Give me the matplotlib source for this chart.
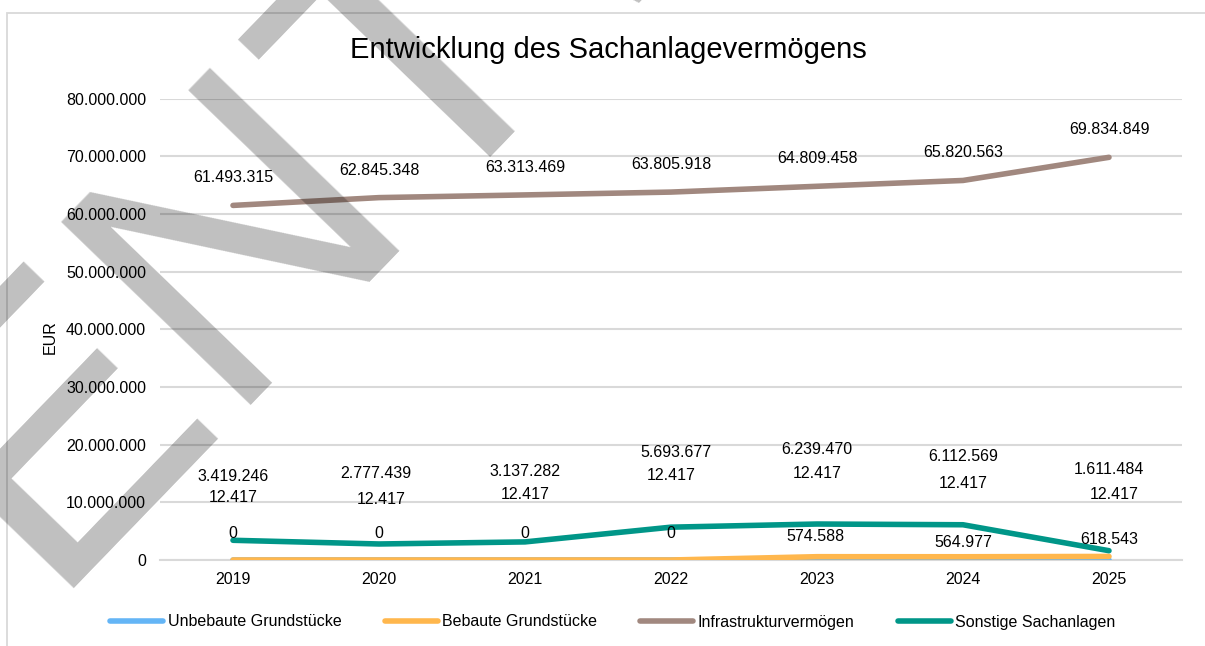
import matplotlib
matplotlib.use("Agg")
import matplotlib.pyplot as plt
from matplotlib.ticker import FuncFormatter, MultipleLocator
from matplotlib.patches import Rectangle

plt.rcParams['font.family'] = ['Liberation Sans', 'DejaVu Sans']
plt.rcParams['font.size'] = 11.5

# Data
years = ['2019', '2020', '2021', '2022', '2023', '2024', '2025']
unbebaut = [12417, 12417, 12417, 12417, 12417, 12417, 12417]
bebaut = [0, 0, 0, 0, 574588, 564977, 618543]
infrastruktur = [61493315, 62845348, 63313469, 63805918, 64809458, 65820563, 69834849]
sonstige = [3419246, 2777439, 3137282, 5693677, 6239470, 6112569, 1611484]

series_names = ['Unbebaute Grundstücke', 'Bebaute Grundstücke',
                'Infrastrukturvermögen', 'Sonstige Sachanlagen']
colors = ['#64B5F6', '#FFB74D', '#A1887F', '#009688']

# label offsets in pixels (dx, dy), as placed in the original chart
unbebaut_off = [(0, 62), (2, 60), (0, 65), (0, 84), (0, 86), (0, 76), (5, 65)]
bebaut_off = [(0, 27), (0, 27), (0, 27), (0, 27), (-2, 20), (0, 14), (0, 17)]
infra_off = [(0, 27.5)] * 7
sonstige_off = [(0, 64), (-3, 70), (0, 70), (5, 75), (0, 75), (0, 68), (0, 81)]


def de_fmt(v, pos=None):
    return f"{int(round(v)):,}".replace(",", ".")


W, H = 1205, 646
fig = plt.figure(figsize=(W / 100, H / 100), dpi=100)
ax = fig.add_axes([160 / W, 1 - 560 / H, (1182 - 160) / W, (560 - 98.7) / H])

x = list(range(len(years)))
all_series = [unbebaut, bebaut, infrastruktur, sonstige]
all_offsets = [unbebaut_off, bebaut_off, infra_off, sonstige_off]

for vals, name, col in zip(all_series, series_names, colors):
    ax.plot(x, vals, color=col, linewidth=4, solid_capstyle='round',
            solid_joinstyle='round', label=name, zorder=3)

for vals, offs in zip(all_series, all_offsets):
    for xi, v, (dx, dy) in zip(x, vals, offs):
        ax.annotate(de_fmt(v), xy=(xi, v), xytext=(dx, dy),
                    textcoords='offset pixels', ha='center', va='center',
                    fontsize=11.5, color='#000000', zorder=4)

ax.set_xlim(-0.5, 6.5)
ax.set_ylim(0, 80000000)
ax.yaxis.set_major_locator(MultipleLocator(10000000))
ax.yaxis.set_major_formatter(FuncFormatter(de_fmt))
ax.set_xticks(x)
ax.set_xticklabels(years)
ax.tick_params(axis='both', length=0, labelsize=11.5, colors='#000000')
ax.tick_params(axis='y', pad=10)
ax.tick_params(axis='x', pad=9)
ax.grid(True, axis='y', color='#D9D9D9', linewidth=1.5, zorder=0)
ax.set_axisbelow(True)
for s in ['top', 'right', 'left']:
    ax.spines[s].set_visible(False)
ax.spines['bottom'].set_color('#D9D9D9')
ax.spines['bottom'].set_linewidth(1.5)

ax.set_ylabel('EUR', fontsize=11.5)
ax.yaxis.set_label_coords(-(160 - 58) / (1182 - 160), (560 - 337) / (560 - 98.7))

fig.text(608 / W, 1 - 50 / H, 'Entwicklung des Sachanlagevermögens',
         ha='center', va='center', fontsize=21, color='#000000')

fig.legend(loc='center', bbox_to_anchor=(613 / W, 1 - 622 / H), ncol=4,
           frameon=False, fontsize=11.5, handlelength=3.3, handletextpad=0.3,
           columnspacing=2.7)

# chart border (cropped on the right and bottom)
fig.patches.append(Rectangle((7 / W, -0.1), 1.2, 1 - 12.5 / H + 0.1,
                             transform=fig.transFigure, fill=False,
                             edgecolor='#D9D9D9', linewidth=1.3))

# watermark
fig.text(43 / W, 1 - 588 / H, 'ENTWURF', rotation=46, rotation_mode='anchor',
         ha='left', va='baseline', fontsize=276, color=(0, 0, 0, 0.25),
         zorder=10)

fig.savefig('out.png', dpi=100)
